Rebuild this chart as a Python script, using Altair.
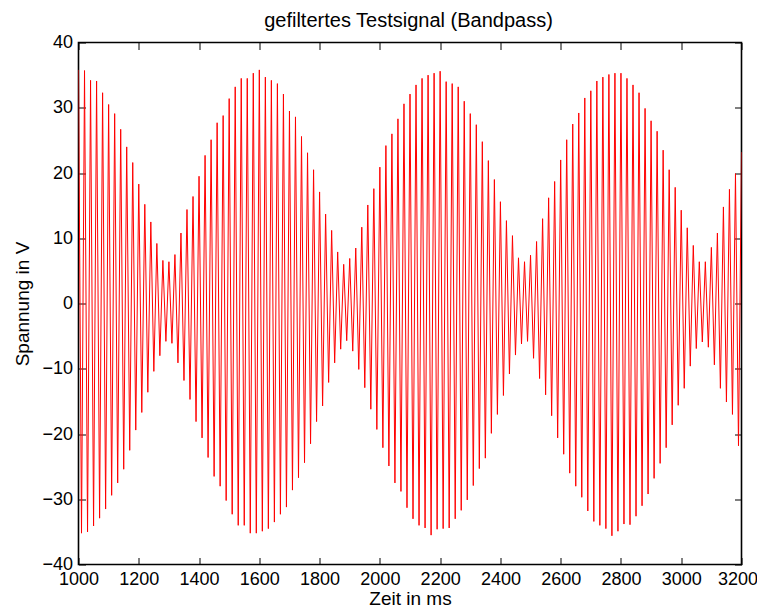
import altair as alt
import pandas as pd

# Local maxima (every 20 ms, starting at 1000 ms) and minima (every 20 ms, starting at 1010 ms)
max_times = list(range(1000, 3201, 20))
max_values = [
    35.8, 35.7, 34.2, 34.1, 32.3, 30.5, 29.1, 26.7, 24.0, 21.6,
    18.3, 15.2, 12.5, 9.2, 6.6, 6.4, 7.5, 10.8, 14.4, 16.4,
    19.5, 22.7, 25.1, 27.7, 28.8, 31.4, 33.2, 34.5, 34.5, 35.3,
    35.8,
    34.7, 34.2, 33.7, 32.1, 29.5, 28.6, 25.6, 23.1, 20.5, 17.1,
    13.7, 11.2, 7.9, 6.0, 6.9, 8.5, 11.7, 15.1, 17.6, 20.9,
    24.2, 26.0, 28.3, 30.6, 32.1, 33.5, 34.5, 35.0, 35.3, 35.6,
    34.0, 33.7, 33.2, 31.0, 29.1, 27.4, 24.8, 21.9, 19.0, 15.6,
    12.7, 10.4, 7.0, 6.4, 7.4, 9.5, 13.0, 16.2, 18.7, 22.0,
    25.1, 27.5, 29.2, 31.5, 32.6, 34.1, 34.7, 35.1, 35.3, 35.3,
    34.5, 33.5, 32.3, 29.9, 28.0, 26.4, 23.5, 20.5, 17.8, 14.3,
    11.6, 8.9, 6.4, 6.4, 8.6, 10.8, 14.8, 17.5, 19.9, 23.2,
]
min_times = list(range(1010, 3200, 20))
min_values = [
    -35.2, -35.0, -34.1, -32.9, -31.5, -29.4, -27.5, -25.4, -22.5, -19.4,
    -16.7, -13.6, -10.4, -8.0, -5.8, -6.1, -9.1, -11.8, -14.7, -18.1,
    -20.6, -23.6, -26.5, -28.0, -30.2, -32.3, -34.0, -34.0, -35.2, -35.2,
    -34.9, -34.5, -33.5, -32.3, -31.2, -28.6, -26.7, -24.4, -21.5, -18.1,
    -15.7, -12.1, -9.1, -7.0, -5.7, -7.3, -10.1, -12.9, -16.2, -19.3,
    -22.1, -24.9, -27.5, -28.8, -31.3, -33.0, -34.0, -34.4, -35.5, -34.6,
    -34.5, -34.4, -33.0, -31.7, -30.1, -27.9, -25.3, -23.7, -19.9, -17.0,
    -14.1, -10.8, -7.9, -6.2, -5.8, -8.4, -11.5, -14.0, -17.2, -20.6,
    -23.1, -26.0, -28.0, -29.7, -31.8, -33.4, -34.0, -34.5, -35.6, -34.9,
    -33.8, -33.9, -32.6, -31.0, -29.2, -26.8, -24.5, -22.1, -18.6, -15.6,
    -13.0, -9.6, -6.9, -5.9, -6.7, -9.4, -13.0, -15.1, -17.0, -21.8,
]
x_ticks = list(range(1000, 3201, 200))
y_ticks = list(range(-40, 41, 10))
title_text = "gefiltertes Testsignal (Bandpass)"

df = pd.DataFrame({"t": max_times + min_times, "v": max_values + min_values}).sort_values("t")

FONT = "Liberation Sans"
W, H = 663, 522
TICK = 7
xs = alt.Scale(domain=[1000, 3200], nice=False, zero=False)
ys = alt.Scale(domain=[-40, 40], nice=False, zero=False)

base = alt.Chart(df)

line = base.mark_line(color="#ff0000", strokeWidth=1, clip=True).encode(
    x=alt.X("t:Q", scale=xs, axis=alt.Axis(
        values=x_ticks, orient="bottom", title="Zeit in ms", ticks=False, tickSize=0,
        domain=False, grid=False, labelPadding=6, labelFlush=False, format="d",
        labelOffset={"condition": {"test": "datum.value == 3200", "value": -4}, "value": 0},
        labelFontSize=18, titleFontSize=19, titleFontWeight="normal",
        titleBaseline="alphabetic", titleY=39.5, titleX=W / 2)),
    y=alt.Y("v:Q", scale=ys, axis=alt.Axis(
        values=y_ticks, orient="left", title="Spannung in V", ticks=False, tickSize=0,
        domain=False, grid=False, labelPadding=6, labelFlush=False, format="d",
        labelFontSize=18, titleFontSize=19, titleFontWeight="normal",
        titleAngle=270, titleBaseline="bottom", titleX=-46, titleY=H / 2)),
)

ticks_bl = base.mark_line(opacity=0).encode(
    x=alt.X("t:Q", scale=xs, axis=alt.Axis(
        values=x_ticks, orient="bottom", offset=-TICK, labels=False, domain=False,
        grid=False, tickSize=TICK, title="")),
    y=alt.Y("v:Q", scale=ys, axis=alt.Axis(
        values=y_ticks, orient="left", offset=-TICK, labels=False, domain=False,
        grid=False, tickSize=TICK, title="")),
)

ticks_tr = base.mark_line(opacity=0).encode(
    x=alt.X("t:Q", scale=xs, axis=alt.Axis(
        values=x_ticks, orient="top", offset=-TICK, labels=False, domain=False,
        grid=False, tickSize=TICK, title="")),
    y=alt.Y("v:Q", scale=ys, axis=alt.Axis(
        values=y_ticks, orient="right", offset=-TICK, labels=False, domain=False,
        grid=False, tickSize=TICK, title="")),
)

# chart title drawn as the title of an otherwise invisible top axis
title_layer = base.mark_line(opacity=0).encode(
    x=alt.X("t:Q", scale=xs, axis=alt.Axis(
        orient="top", ticks=False, labels=False, domain=False, grid=False,
        title=title_text, titleFontSize=20, titleFontWeight="normal",
        titleBaseline="alphabetic", titleX=W / 2 - 2, titleY=-15.8)),
    y=alt.Y("v:Q", scale=ys, axis=alt.Axis(
        orient="right", ticks=False, labels=False, domain=False, grid=False,
        title="")),
)

chart = alt.layer(line, ticks_bl, ticks_tr, title_layer).resolve_axis(
    x="independent", y="independent"
).properties(
    width=W,
    height=H,
    background="white",
    autosize=alt.AutoSizeParams(type="none"),
    padding={"left": 70.5, "top": 34.5, "right": 15.5, "bottom": 43.5},
).configure_view(
    stroke="black", strokeWidth=1.6
).configure_axis(
    labelFont=FONT, titleFont=FONT, labelColor="black", titleColor="black",
    tickColor="black", tickWidth=1, titleFontWeight="normal",
)

chart.save("out.html", embed_options={"renderer": "svg", "actions": False})
